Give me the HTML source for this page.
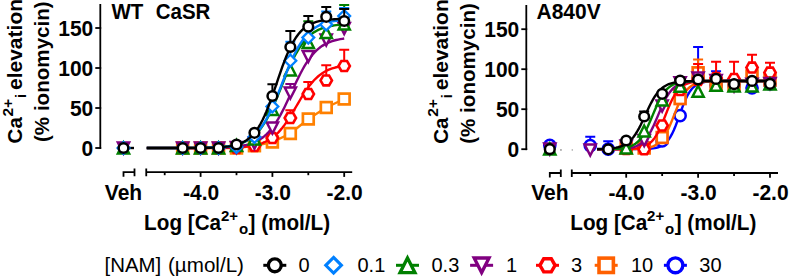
<!DOCTYPE html><html><head><meta charset="utf-8"><style>html,body{margin:0;padding:0;background:#fff;width:789px;height:277px;overflow:hidden;position:relative}</style></head><body><svg width="789" height="277" viewBox="0 0 789 277" style="position:absolute;left:0;top:0">
<rect width="789" height="277" fill="#fff"/>
<g transform="translate(0,0) rotate(-90)"><text x="-143.4" y="22.2" style="font-family:'Liberation Sans',sans-serif;font-weight:bold;font-size:20.5px">Ca</text><text x="-116.5" y="12.6" style="font-family:'Liberation Sans',sans-serif;font-weight:bold;font-size:15.5px">2+</text><text x="-98" y="26.2" style="font-family:'Liberation Sans',sans-serif;font-weight:bold;font-size:15px">i</text><text x="-90" y="22.2" style="font-family:'Liberation Sans',sans-serif;font-weight:bold;font-size:21px">elevation</text><text x="-142" y="49.3" style="font-family:'Liberation Sans',sans-serif;font-weight:bold;font-size:20.6px">(% ionomycin)</text></g>
<g transform="translate(425.5,0.3) rotate(-90)"><text x="-143.4" y="22.2" style="font-family:'Liberation Sans',sans-serif;font-weight:bold;font-size:20.5px">Ca</text><text x="-116.5" y="12.6" style="font-family:'Liberation Sans',sans-serif;font-weight:bold;font-size:15.5px">2+</text><text x="-98" y="26.2" style="font-family:'Liberation Sans',sans-serif;font-weight:bold;font-size:15px">i</text><text x="-90" y="22.2" style="font-family:'Liberation Sans',sans-serif;font-weight:bold;font-size:21px">elevation</text><text x="-143.5" y="49.3" style="font-family:'Liberation Sans',sans-serif;font-weight:bold;font-size:20.6px">(% ionomycin)</text></g>
<text transform="translate(93.30,155.80) scale(1,1.08)" text-anchor="end" style="font-family:'Liberation Sans',sans-serif;font-weight:bold;font-size:21px">0</text>
<text transform="translate(93.30,115.80) scale(1,1.08)" text-anchor="end" style="font-family:'Liberation Sans',sans-serif;font-weight:bold;font-size:21px">50</text>
<text transform="translate(93.30,75.80) scale(1,1.08)" text-anchor="end" style="font-family:'Liberation Sans',sans-serif;font-weight:bold;font-size:21px">100</text>
<text transform="translate(93.30,35.80) scale(1,1.08)" text-anchor="end" style="font-family:'Liberation Sans',sans-serif;font-weight:bold;font-size:21px">150</text>
<text transform="translate(123.50,199.60) scale(1,1.08)" text-anchor="middle" style="font-family:'Liberation Sans',sans-serif;font-weight:bold;font-size:21px">Veh</text>
<text transform="translate(201.10,199.60) scale(1,1.08)" text-anchor="middle" style="font-family:'Liberation Sans',sans-serif;font-weight:bold;font-size:21px">-4.0</text>
<text transform="translate(272.90,199.60) scale(1,1.08)" text-anchor="middle" style="font-family:'Liberation Sans',sans-serif;font-weight:bold;font-size:21px">-3.0</text>
<text transform="translate(344.70,199.60) scale(1,1.08)" text-anchor="middle" style="font-family:'Liberation Sans',sans-serif;font-weight:bold;font-size:21px">-2.0</text>
<text transform="translate(144.10,230.30) scale(1,1.04)" style="font-family:'Liberation Sans',sans-serif;font-weight:bold;font-size:20.7px">Log [Ca</text>
<text x="220.9" y="221.4" style="font-family:'Liberation Sans',sans-serif;font-weight:bold;font-size:15px">2+</text>
<text x="238.9" y="234" style="font-family:'Liberation Sans',sans-serif;font-weight:bold;font-size:15px">o</text>
<text transform="translate(248.50,230.30) scale(1,1.04)" style="font-family:'Liberation Sans',sans-serif;font-weight:bold;font-size:20.7px">] (mol/L)</text>
<path d="M100.30 4.0V148.90" stroke="#000" stroke-width="1.8" fill="none"/>
<path d="M95.30 148.00H101.20" stroke="#000" stroke-width="1.8"/>
<path d="M95.30 108.00H101.20" stroke="#000" stroke-width="1.8"/>
<path d="M95.30 68.00H101.20" stroke="#000" stroke-width="1.8"/>
<path d="M95.30 28.00H101.20" stroke="#000" stroke-width="1.8"/>
<path d="M123.50 176.70V172.20H134.50M134.50 168.60V176.20" stroke="#000" stroke-width="1.8" fill="none"/>
<path d="M146.25 168.60V176.20M146.25 172.20H352.20" stroke="#000" stroke-width="1.8" fill="none"/>
<path d="M164.70 172.20V175.20" stroke="#000" stroke-width="1.8"/>
<path d="M236.50 172.20V175.20" stroke="#000" stroke-width="1.8"/>
<path d="M308.30 172.20V175.20" stroke="#000" stroke-width="1.8"/>
<path d="M200.60 172.20V176.90" stroke="#000" stroke-width="1.8"/>
<path d="M272.40 172.20V176.90" stroke="#000" stroke-width="1.8"/>
<path d="M344.20 172.20V176.90" stroke="#000" stroke-width="1.8"/>
<text transform="translate(519.30,157.00) scale(1,1.08)" text-anchor="end" style="font-family:'Liberation Sans',sans-serif;font-weight:bold;font-size:21px">0</text>
<text transform="translate(519.30,117.00) scale(1,1.08)" text-anchor="end" style="font-family:'Liberation Sans',sans-serif;font-weight:bold;font-size:21px">50</text>
<text transform="translate(519.30,77.00) scale(1,1.08)" text-anchor="end" style="font-family:'Liberation Sans',sans-serif;font-weight:bold;font-size:21px">100</text>
<text transform="translate(519.30,37.00) scale(1,1.08)" text-anchor="end" style="font-family:'Liberation Sans',sans-serif;font-weight:bold;font-size:21px">150</text>
<text transform="translate(549.80,200.40) scale(1,1.08)" text-anchor="middle" style="font-family:'Liberation Sans',sans-serif;font-weight:bold;font-size:21px">Veh</text>
<text transform="translate(626.70,200.40) scale(1,1.08)" text-anchor="middle" style="font-family:'Liberation Sans',sans-serif;font-weight:bold;font-size:21px">-4.0</text>
<text transform="translate(698.60,200.40) scale(1,1.08)" text-anchor="middle" style="font-family:'Liberation Sans',sans-serif;font-weight:bold;font-size:21px">-3.0</text>
<text transform="translate(770.50,200.40) scale(1,1.08)" text-anchor="middle" style="font-family:'Liberation Sans',sans-serif;font-weight:bold;font-size:21px">-2.0</text>
<text transform="translate(570.30,230.30) scale(1,1.04)" style="font-family:'Liberation Sans',sans-serif;font-weight:bold;font-size:20.7px">Log [Ca</text>
<text x="647.1" y="221.4" style="font-family:'Liberation Sans',sans-serif;font-weight:bold;font-size:15px">2+</text>
<text x="665.1" y="234" style="font-family:'Liberation Sans',sans-serif;font-weight:bold;font-size:15px">o</text>
<text transform="translate(674.70,230.30) scale(1,1.04)" style="font-family:'Liberation Sans',sans-serif;font-weight:bold;font-size:20.7px">] (mol/L)</text>
<path d="M526.30 5.0V150.10" stroke="#000" stroke-width="1.8" fill="none"/>
<path d="M521.30 149.20H527.20" stroke="#000" stroke-width="1.8"/>
<path d="M521.30 109.20H527.20" stroke="#000" stroke-width="1.8"/>
<path d="M521.30 69.20H527.20" stroke="#000" stroke-width="1.8"/>
<path d="M521.30 29.20H527.20" stroke="#000" stroke-width="1.8"/>
<path d="M549.80 177.50V173.00H560.80M560.80 169.40V177.00" stroke="#000" stroke-width="1.8" fill="none"/>
<path d="M571.78 169.40V177.00M571.78 173.00H778.00" stroke="#000" stroke-width="1.8" fill="none"/>
<path d="M590.25 173.00V176.00" stroke="#000" stroke-width="1.8"/>
<path d="M662.15 173.00V176.00" stroke="#000" stroke-width="1.8"/>
<path d="M734.05 173.00V176.00" stroke="#000" stroke-width="1.8"/>
<path d="M626.20 173.00V177.70" stroke="#000" stroke-width="1.8"/>
<path d="M698.10 173.00V177.70" stroke="#000" stroke-width="1.8"/>
<path d="M770.00 173.00V177.70" stroke="#000" stroke-width="1.8"/>
<text transform="translate(111.50,19.40) scale(1,1.08)" style="font-family:'Liberation Sans',sans-serif;font-weight:bold;font-size:20.5px">WT</text><text transform="translate(155.70,19.40) scale(1,1.08)" style="font-family:'Liberation Sans',sans-serif;font-weight:bold;font-size:20.5px">CaSR</text>
<text transform="translate(536.50,19.10) scale(1,1.08)" style="font-family:'Liberation Sans',sans-serif;font-weight:bold;font-size:21px">A840V</text>
<path d="M123.50 148H134.00" stroke="#000" stroke-width="2.4"/>
<path d="M146.75 148.00L182.65 148.00L200.60 148.00L218.55 148.00L236.50 148.00L254.45 145.70L272.40 142.00L290.35 133.50L308.30 119.00L326.25 107.50L344.20 99.00" fill="none" stroke="#ff8000" stroke-width="2.4"/>
<rect x="177.25" y="142.60" width="10.80" height="10.80" fill="#fff" stroke="#ff8000" stroke-width="2.70"/>
<rect x="195.20" y="142.60" width="10.80" height="10.80" fill="#fff" stroke="#ff8000" stroke-width="2.70"/>
<rect x="213.15" y="142.60" width="10.80" height="10.80" fill="#fff" stroke="#ff8000" stroke-width="2.70"/>
<rect x="231.10" y="142.60" width="10.80" height="10.80" fill="#fff" stroke="#ff8000" stroke-width="2.70"/>
<rect x="249.05" y="140.30" width="10.80" height="10.80" fill="#fff" stroke="#ff8000" stroke-width="2.70"/>
<rect x="267.00" y="136.60" width="10.80" height="10.80" fill="#fff" stroke="#ff8000" stroke-width="2.70"/>
<rect x="284.95" y="128.10" width="10.80" height="10.80" fill="#fff" stroke="#ff8000" stroke-width="2.70"/>
<rect x="302.90" y="113.60" width="10.80" height="10.80" fill="#fff" stroke="#ff8000" stroke-width="2.70"/>
<rect x="320.85" y="102.10" width="10.80" height="10.80" fill="#fff" stroke="#ff8000" stroke-width="2.70"/>
<rect x="338.80" y="93.60" width="10.80" height="10.80" fill="#fff" stroke="#ff8000" stroke-width="2.70"/>
<path d="M146.75 148.00L148.74 148.00L150.74 148.00L152.73 148.00L154.73 148.00L156.72 148.00L158.72 148.00L160.71 148.00L162.71 148.00L164.70 148.00L166.69 148.00L168.69 148.00L170.68 148.00L172.68 148.00L174.67 148.00L176.67 148.00L178.66 147.99L180.66 147.99L182.65 147.99L184.64 147.99L186.64 147.99L188.63 147.99L190.63 147.98L192.62 147.98L194.62 147.98L196.61 147.98L198.61 147.97L200.60 147.97L202.59 147.96L204.59 147.95L206.58 147.94L208.58 147.93L210.57 147.92L212.57 147.91L214.56 147.89L216.56 147.87L218.55 147.85L220.54 147.83L222.54 147.79L224.53 147.76L226.53 147.72L228.52 147.67L230.52 147.61L232.51 147.54L234.51 147.46L236.50 147.36L238.49 147.25L240.49 147.12L242.48 146.97L244.48 146.79L246.47 146.58L248.47 146.34L250.46 146.05L252.46 145.72L254.45 145.33L256.44 144.88L258.44 144.35L260.43 143.74L262.43 143.04L264.42 142.22L266.42 141.29L268.41 140.22L270.41 138.99L272.40 137.60L274.39 136.03L276.39 134.27L278.38 132.31L280.38 130.13L282.37 127.74L284.37 125.15L286.36 122.35L288.36 119.38L290.35 116.24L292.34 112.99L294.34 109.64L296.33 106.24L298.33 102.85L300.32 99.49L302.32 96.22L304.31 93.07L306.31 90.07L308.30 87.26L310.29 84.64L312.29 82.22L314.28 80.02L316.28 78.03L318.27 76.25L320.27 74.65L322.26 73.24L324.26 72.00L326.25 70.91L328.24 69.96L330.24 69.13L332.23 68.42L334.23 67.80L336.22 67.26L338.22 66.80L340.21 66.40L342.21 66.06L344.20 65.77" fill="none" stroke="#ff0000" stroke-width="2.4"/>
<path d="M290.35 118.00V110.30M285.35 110.30H295.35" fill="none" stroke="#ff0000" stroke-width="2"/>
<path d="M308.30 94.00V82.00M303.30 82.00H313.30" fill="none" stroke="#ff0000" stroke-width="2"/>
<path d="M326.25 80.40V65.20M321.25 65.20H331.25" fill="none" stroke="#ff0000" stroke-width="2"/>
<path d="M344.20 66.00V49.70M339.20 49.70H349.20" fill="none" stroke="#ff0000" stroke-width="2"/>
<path d="M176.95 148.00L179.80 143.06L185.50 143.06L188.35 148.00L185.50 152.94L179.80 152.94Z" fill="#fff" stroke="#ff0000" stroke-width="2.60"/>
<path d="M194.90 148.00L197.75 143.06L203.45 143.06L206.30 148.00L203.45 152.94L197.75 152.94Z" fill="#fff" stroke="#ff0000" stroke-width="2.60"/>
<path d="M212.85 148.00L215.70 143.06L221.40 143.06L224.25 148.00L221.40 152.94L215.70 152.94Z" fill="#fff" stroke="#ff0000" stroke-width="2.60"/>
<path d="M230.80 148.00L233.65 143.06L239.35 143.06L242.20 148.00L239.35 152.94L233.65 152.94Z" fill="#fff" stroke="#ff0000" stroke-width="2.60"/>
<path d="M248.75 146.00L251.60 141.06L257.30 141.06L260.15 146.00L257.30 150.94L251.60 150.94Z" fill="#fff" stroke="#ff0000" stroke-width="2.60"/>
<path d="M266.70 138.00L269.55 133.06L275.25 133.06L278.10 138.00L275.25 142.94L269.55 142.94Z" fill="#fff" stroke="#ff0000" stroke-width="2.60"/>
<path d="M284.65 118.00L287.50 113.06L293.20 113.06L296.05 118.00L293.20 122.94L287.50 122.94Z" fill="#fff" stroke="#ff0000" stroke-width="2.60"/>
<path d="M302.60 94.00L305.45 89.06L311.15 89.06L314.00 94.00L311.15 98.94L305.45 98.94Z" fill="#fff" stroke="#ff0000" stroke-width="2.60"/>
<path d="M320.55 80.40L323.40 75.46L329.10 75.46L331.95 80.40L329.10 85.34L323.40 85.34Z" fill="#fff" stroke="#ff0000" stroke-width="2.60"/>
<path d="M338.50 66.00L341.35 61.06L347.05 61.06L349.90 66.00L347.05 70.94L341.35 70.94Z" fill="#fff" stroke="#ff0000" stroke-width="2.60"/>
<path d="M146.75 148.00L148.74 148.00L150.74 148.00L152.73 148.00L154.73 148.00L156.72 148.00L158.72 148.00L160.71 148.00L162.71 148.00L164.70 147.99L166.69 147.99L168.69 147.99L170.68 147.99L172.68 147.99L174.67 147.99L176.67 147.99L178.66 147.98L180.66 147.98L182.65 147.98L184.64 147.97L186.64 147.97L188.63 147.97L190.63 147.96L192.62 147.95L194.62 147.94L196.61 147.94L198.61 147.92L200.60 147.91L202.59 147.90L204.59 147.88L206.58 147.86L208.58 147.83L210.57 147.81L212.57 147.77L214.56 147.74L216.56 147.69L218.55 147.64L220.54 147.58L222.54 147.51L224.53 147.42L226.53 147.33L228.52 147.21L230.52 147.08L232.51 146.92L234.51 146.74L236.50 146.53L238.49 146.29L240.49 146.00L242.48 145.67L244.48 145.29L246.47 144.84L248.47 144.32L250.46 143.72L252.46 143.03L254.45 142.23L256.44 141.31L258.44 140.25L260.43 139.05L262.43 137.67L264.42 136.10L266.42 134.33L268.41 132.34L270.41 130.11L272.40 127.63L274.39 124.89L276.39 121.89L278.38 118.63L280.38 115.12L282.37 111.38L284.37 107.44L286.36 103.32L288.36 99.08L290.35 94.75L292.34 90.40L294.34 86.07L296.33 81.81L298.33 77.69L300.32 73.72L302.32 69.97L304.31 66.44L306.31 63.16L308.30 60.14L310.29 57.38L312.29 54.88L314.28 52.63L316.28 50.62L318.27 48.83L320.27 47.25L322.26 45.86L324.26 44.64L326.25 43.57L328.24 42.64L330.24 41.83L332.23 41.13L334.23 40.52L336.22 40.00L338.22 39.55L340.21 39.16L342.21 38.82L344.20 38.53" fill="none" stroke="#800080" stroke-width="2.4"/>
<path d="M290.35 93.00V84.00M285.35 84.00H295.35" fill="none" stroke="#800080" stroke-width="2"/>
<path d="M123.50 153.50L129.10 142.50L117.90 142.50Z" fill="#fff" stroke="#800080" stroke-width="2.50"/>
<path d="M182.65 153.50L188.25 142.50L177.05 142.50Z" fill="#fff" stroke="#800080" stroke-width="2.50"/>
<path d="M200.60 153.50L206.20 142.50L195.00 142.50Z" fill="#fff" stroke="#800080" stroke-width="2.50"/>
<path d="M218.55 153.50L224.15 142.50L212.95 142.50Z" fill="#fff" stroke="#800080" stroke-width="2.50"/>
<path d="M236.50 153.00L242.10 142.00L230.90 142.00Z" fill="#fff" stroke="#800080" stroke-width="2.50"/>
<path d="M254.45 148.80L260.05 137.80L248.85 137.80Z" fill="#fff" stroke="#800080" stroke-width="2.50"/>
<path d="M272.40 133.50L278.00 122.50L266.80 122.50Z" fill="#fff" stroke="#800080" stroke-width="2.50"/>
<path d="M290.35 98.50L295.95 87.50L284.75 87.50Z" fill="#fff" stroke="#800080" stroke-width="2.50"/>
<path d="M308.30 62.00L313.90 51.00L302.70 51.00Z" fill="#fff" stroke="#800080" stroke-width="2.50"/>
<path d="M326.25 45.50L331.85 34.50L320.65 34.50Z" fill="#fff" stroke="#800080" stroke-width="2.50"/>
<path d="M344.20 34.00L349.80 23.00L338.60 23.00Z" fill="#fff" stroke="#800080" stroke-width="2.50"/>
<path d="M146.75 148.00L148.74 148.00L150.74 148.00L152.73 148.00L154.73 148.00L156.72 147.99L158.72 147.99L160.71 147.99L162.71 147.99L164.70 147.99L166.69 147.99L168.69 147.99L170.68 147.98L172.68 147.98L174.67 147.98L176.67 147.97L178.66 147.97L180.66 147.96L182.65 147.96L184.64 147.95L186.64 147.94L188.63 147.93L190.63 147.92L192.62 147.90L194.62 147.88L196.61 147.86L198.61 147.84L200.60 147.81L202.59 147.78L204.59 147.74L206.58 147.70L208.58 147.65L210.57 147.59L212.57 147.52L214.56 147.43L216.56 147.33L218.55 147.22L220.54 147.09L222.54 146.93L224.53 146.74L226.53 146.53L228.52 146.28L230.52 145.98L232.51 145.64L234.51 145.24L236.50 144.78L238.49 144.23L240.49 143.60L242.48 142.87L244.48 142.03L246.47 141.05L248.47 139.92L250.46 138.63L252.46 137.14L254.45 135.45L256.44 133.53L258.44 131.35L260.43 128.91L262.43 126.18L264.42 123.15L266.42 119.82L268.41 116.18L270.41 112.25L272.40 108.04L274.39 103.59L276.39 98.93L278.38 94.10L280.38 89.18L282.37 84.21L284.37 79.26L286.36 74.39L288.36 69.67L290.35 65.13L292.34 60.83L294.34 56.80L296.33 53.05L298.33 49.61L300.32 46.47L302.32 43.64L304.31 41.09L306.31 38.83L308.30 36.81L310.29 35.04L312.29 33.48L314.28 32.12L316.28 30.94L318.27 29.91L320.27 29.02L322.26 28.25L324.26 27.58L326.25 27.01L328.24 26.52L330.24 26.10L332.23 25.73L334.23 25.42L336.22 25.16L338.22 24.93L340.21 24.73L342.21 24.57L344.20 24.43" fill="none" stroke="#008000" stroke-width="2.4"/>
<path d="M308.30 42.50V21.30M303.30 21.30H313.30" fill="none" stroke="#008000" stroke-width="2"/>
<path d="M344.20 24.00V4.90M339.20 4.90H349.20" fill="none" stroke="#008000" stroke-width="2"/>
<path d="M123.50 142.50L129.10 153.50L117.90 153.50Z" fill="#fff" stroke="#008000" stroke-width="2.50"/>
<path d="M182.65 142.50L188.25 153.50L177.05 153.50Z" fill="#fff" stroke="#008000" stroke-width="2.50"/>
<path d="M200.60 142.50L206.20 153.50L195.00 153.50Z" fill="#fff" stroke="#008000" stroke-width="2.50"/>
<path d="M218.55 142.50L224.15 153.50L212.95 153.50Z" fill="#fff" stroke="#008000" stroke-width="2.50"/>
<path d="M236.50 140.10L242.10 151.10L230.90 151.10Z" fill="#fff" stroke="#008000" stroke-width="2.50"/>
<path d="M254.45 133.50L260.05 144.50L248.85 144.50Z" fill="#fff" stroke="#008000" stroke-width="2.50"/>
<path d="M272.40 104.00L278.00 115.00L266.80 115.00Z" fill="#fff" stroke="#008000" stroke-width="2.50"/>
<path d="M290.35 64.50L295.95 75.50L284.75 75.50Z" fill="#fff" stroke="#008000" stroke-width="2.50"/>
<path d="M308.30 37.00L313.90 48.00L302.70 48.00Z" fill="#fff" stroke="#008000" stroke-width="2.50"/>
<path d="M326.25 27.00L331.85 38.00L320.65 38.00Z" fill="#fff" stroke="#008000" stroke-width="2.50"/>
<path d="M344.20 18.50L349.80 29.50L338.60 29.50Z" fill="#fff" stroke="#008000" stroke-width="2.50"/>
<path d="M146.75 148.00L148.74 148.00L150.74 148.00L152.73 148.00L154.73 147.99L156.72 147.99L158.72 147.99L160.71 147.99L162.71 147.99L164.70 147.99L166.69 147.99L168.69 147.98L170.68 147.98L172.68 147.98L174.67 147.97L176.67 147.97L178.66 147.96L180.66 147.96L182.65 147.95L184.64 147.94L186.64 147.93L188.63 147.92L190.63 147.91L192.62 147.89L194.62 147.87L196.61 147.85L198.61 147.83L200.60 147.80L202.59 147.76L204.59 147.72L206.58 147.67L208.58 147.62L210.57 147.55L212.57 147.48L214.56 147.39L216.56 147.28L218.55 147.16L220.54 147.02L222.54 146.85L224.53 146.66L226.53 146.43L228.52 146.17L230.52 145.86L232.51 145.50L234.51 145.09L236.50 144.60L238.49 144.04L240.49 143.38L242.48 142.63L244.48 141.75L246.47 140.74L248.47 139.58L250.46 138.25L252.46 136.73L254.45 135.00L256.44 133.03L258.44 130.81L260.43 128.32L262.43 125.54L264.42 122.46L266.42 119.07L268.41 115.37L270.41 111.38L272.40 107.10L274.39 102.56L276.39 97.81L278.38 92.89L280.38 87.86L282.37 82.77L284.37 77.70L286.36 72.69L288.36 67.81L290.35 63.12L292.34 58.65L294.34 54.45L296.33 50.54L298.33 46.93L300.32 43.62L302.32 40.63L304.31 37.93L306.31 35.51L308.30 33.37L310.29 31.47L312.29 29.80L314.28 28.33L316.28 27.05L318.27 25.93L320.27 24.96L322.26 24.12L324.26 23.40L326.25 22.77L328.24 22.23L330.24 21.77L332.23 21.37L334.23 21.02L336.22 20.73L338.22 20.47L340.21 20.26L342.21 20.07L344.20 19.91" fill="none" stroke="#0080ff" stroke-width="2.4"/>
<path d="M290.35 60.70V41.80M285.35 41.80H295.35" fill="none" stroke="#0080ff" stroke-width="2"/>
<path d="M326.25 24.50V11.40M321.25 11.40H331.25" fill="none" stroke="#0080ff" stroke-width="2"/>
<path d="M344.20 16.00V8.00M339.20 8.00H349.20" fill="none" stroke="#0080ff" stroke-width="2"/>
<path d="M123.50 142.10L129.40 148.00L123.50 153.90L117.60 148.00Z" fill="#fff" stroke="#0080ff" stroke-width="2.30"/>
<path d="M182.65 142.10L188.55 148.00L182.65 153.90L176.75 148.00Z" fill="#fff" stroke="#0080ff" stroke-width="2.30"/>
<path d="M200.60 142.10L206.50 148.00L200.60 153.90L194.70 148.00Z" fill="#fff" stroke="#0080ff" stroke-width="2.30"/>
<path d="M218.55 142.10L224.45 148.00L218.55 153.90L212.65 148.00Z" fill="#fff" stroke="#0080ff" stroke-width="2.30"/>
<path d="M236.50 141.10L242.40 147.00L236.50 152.90L230.60 147.00Z" fill="#fff" stroke="#0080ff" stroke-width="2.30"/>
<path d="M254.45 131.10L260.35 137.00L254.45 142.90L248.55 137.00Z" fill="#fff" stroke="#0080ff" stroke-width="2.30"/>
<path d="M272.40 100.60L278.30 106.50L272.40 112.40L266.50 106.50Z" fill="#fff" stroke="#0080ff" stroke-width="2.30"/>
<path d="M290.35 54.80L296.25 60.70L290.35 66.60L284.45 60.70Z" fill="#fff" stroke="#0080ff" stroke-width="2.30"/>
<path d="M308.30 31.70L314.20 37.60L308.30 43.50L302.40 37.60Z" fill="#fff" stroke="#0080ff" stroke-width="2.30"/>
<path d="M326.25 18.60L332.15 24.50L326.25 30.40L320.35 24.50Z" fill="#fff" stroke="#0080ff" stroke-width="2.30"/>
<path d="M344.20 10.10L350.10 16.00L344.20 21.90L338.30 16.00Z" fill="#fff" stroke="#0080ff" stroke-width="2.30"/>
<path d="M146.75 148.00L148.74 148.00L150.74 148.00L152.73 148.00L154.73 148.00L156.72 148.00L158.72 148.00L160.71 148.00L162.71 148.00L164.70 148.00L166.69 147.99L168.69 147.99L170.68 147.99L172.68 147.99L174.67 147.99L176.67 147.99L178.66 147.98L180.66 147.98L182.65 147.98L184.64 147.97L186.64 147.97L188.63 147.96L190.63 147.95L192.62 147.94L194.62 147.93L196.61 147.91L198.61 147.90L200.60 147.88L202.59 147.85L204.59 147.82L206.58 147.79L208.58 147.74L210.57 147.69L212.57 147.63L214.56 147.56L216.56 147.47L218.55 147.36L220.54 147.23L222.54 147.08L224.53 146.90L226.53 146.68L228.52 146.42L230.52 146.11L232.51 145.74L234.51 145.30L236.50 144.78L238.49 144.15L240.49 143.41L242.48 142.53L244.48 141.49L246.47 140.27L248.47 138.83L250.46 137.15L252.46 135.20L254.45 132.94L256.44 130.34L258.44 127.37L260.43 124.01L262.43 120.24L264.42 116.06L266.42 111.48L268.41 106.52L270.41 101.23L272.40 95.66L274.39 89.90L276.39 84.02L278.38 78.14L280.38 72.34L282.37 66.71L284.37 61.35L286.36 56.30L288.36 51.62L290.35 47.34L292.34 43.47L294.34 40.01L296.33 36.95L298.33 34.26L300.32 31.92L302.32 29.89L304.31 28.15L306.31 26.65L308.30 25.38L310.29 24.30L312.29 23.38L314.28 22.61L316.28 21.95L318.27 21.40L320.27 20.94L322.26 20.56L324.26 20.23L326.25 19.96L328.24 19.73L330.24 19.54L332.23 19.38L334.23 19.25L336.22 19.14L338.22 19.05L340.21 18.97L342.21 18.91L344.20 18.85" fill="none" stroke="#000000" stroke-width="2.4"/>
<path d="M272.40 96.00V84.30M267.40 84.30H277.40" fill="none" stroke="#000000" stroke-width="2"/>
<path d="M290.35 47.00V31.00M285.35 31.00H295.35" fill="none" stroke="#000000" stroke-width="2"/>
<path d="M308.30 26.70V16.00M303.30 16.00H313.30" fill="none" stroke="#000000" stroke-width="2"/>
<path d="M326.25 16.80V7.10M321.25 7.10H331.25" fill="none" stroke="#000000" stroke-width="2"/>
<path d="M344.20 21.00V9.00M339.20 9.00H349.20" fill="none" stroke="#000000" stroke-width="2"/>
<circle cx="123.50" cy="148.00" r="4.85" fill="#fff" stroke="#000000" stroke-width="2.50"/>
<circle cx="182.65" cy="148.00" r="4.85" fill="#fff" stroke="#000000" stroke-width="2.50"/>
<circle cx="200.60" cy="148.00" r="4.85" fill="#fff" stroke="#000000" stroke-width="2.50"/>
<circle cx="218.55" cy="148.00" r="4.85" fill="#fff" stroke="#000000" stroke-width="2.50"/>
<circle cx="236.50" cy="144.50" r="4.85" fill="#fff" stroke="#000000" stroke-width="2.50"/>
<circle cx="254.45" cy="132.80" r="4.85" fill="#fff" stroke="#000000" stroke-width="2.50"/>
<circle cx="272.40" cy="96.00" r="4.85" fill="#fff" stroke="#000000" stroke-width="2.50"/>
<circle cx="290.35" cy="47.00" r="4.85" fill="#fff" stroke="#000000" stroke-width="2.50"/>
<circle cx="308.30" cy="26.70" r="4.85" fill="#fff" stroke="#000000" stroke-width="2.50"/>
<circle cx="326.25" cy="16.80" r="4.85" fill="#fff" stroke="#000000" stroke-width="2.50"/>
<circle cx="344.20" cy="21.00" r="4.85" fill="#fff" stroke="#000000" stroke-width="2.50"/>
<path d="M597.01 149.20L598.76 149.20L600.50 149.20L602.25 149.20L604.00 149.20L605.75 149.20L607.49 149.20L609.24 149.20L610.99 149.20L612.74 149.20L614.48 149.20L616.23 149.20L617.98 149.20L619.72 149.20L621.47 149.20L623.22 149.19L624.97 149.19L626.71 149.19L628.46 149.18L630.21 149.18L631.96 149.17L633.70 149.16L635.45 149.15L637.20 149.14L638.95 149.12L640.69 149.09L642.44 149.05L644.19 149.00L645.94 148.93L647.68 148.84L649.43 148.73L651.18 148.57L652.93 148.36L654.67 148.09L656.42 147.72L658.17 147.24L659.91 146.61L661.66 145.80L663.41 144.73L665.16 143.37L666.90 141.64L668.65 139.48L670.40 136.83L672.15 133.64L673.89 129.92L675.64 125.70L677.39 121.09L679.14 116.24L680.88 111.35L682.63 106.60L684.38 102.18L686.13 98.22L687.87 94.77L689.62 91.87L691.37 89.48L693.11 87.56L694.86 86.03L696.61 84.83L698.36 83.91L700.10 83.19L701.85 82.65L703.60 82.23L705.35 81.92L707.09 81.68L708.84 81.50L710.59 81.37L712.34 81.27L714.08 81.19L715.83 81.13L717.58 81.09L719.33 81.06L721.07 81.03L722.82 81.01L724.57 81.00L726.32 80.99L728.06 80.98L729.81 80.98L731.56 80.97L733.30 80.97L735.05 80.97L736.80 80.97L738.55 80.96L740.29 80.96L742.04 80.96L743.79 80.96L745.54 80.96L747.28 80.96L749.03 80.96L750.78 80.96L752.53 80.96L754.27 80.96L756.02 80.96L757.77 80.96L759.52 80.96L761.26 80.96L763.01 80.96L764.76 80.96L766.51 80.96L768.25 80.96L770.00 80.96" fill="none" stroke="#0000ff" stroke-width="2.4"/>
<path d="M590.25 145.60V136.70M585.25 136.70H595.25" fill="none" stroke="#0000ff" stroke-width="2"/>
<path d="M608.23 149.20V141.20M603.23 141.20H613.23" fill="none" stroke="#0000ff" stroke-width="2"/>
<path d="M698.10 78.00V46.90M693.10 46.90H703.10" fill="none" stroke="#0000ff" stroke-width="2"/>
<path d="M716.08 85.00V71.20M711.08 71.20H721.08" fill="none" stroke="#0000ff" stroke-width="2"/>
<circle cx="549.80" cy="145.30" r="5.60" fill="#fff" stroke="#0000ff" stroke-width="2.50"/>
<circle cx="590.25" cy="145.60" r="5.60" fill="#fff" stroke="#0000ff" stroke-width="2.50"/>
<circle cx="608.23" cy="149.20" r="5.60" fill="#fff" stroke="#0000ff" stroke-width="2.50"/>
<circle cx="626.20" cy="148.00" r="5.60" fill="#fff" stroke="#0000ff" stroke-width="2.50"/>
<circle cx="644.18" cy="146.00" r="5.60" fill="#fff" stroke="#0000ff" stroke-width="2.50"/>
<circle cx="662.15" cy="141.00" r="5.60" fill="#fff" stroke="#0000ff" stroke-width="2.50"/>
<circle cx="680.12" cy="115.70" r="5.60" fill="#fff" stroke="#0000ff" stroke-width="2.50"/>
<circle cx="698.10" cy="78.00" r="5.60" fill="#fff" stroke="#0000ff" stroke-width="2.50"/>
<circle cx="716.08" cy="85.00" r="5.60" fill="#fff" stroke="#0000ff" stroke-width="2.50"/>
<circle cx="734.05" cy="85.00" r="5.60" fill="#fff" stroke="#0000ff" stroke-width="2.50"/>
<circle cx="752.03" cy="88.00" r="5.60" fill="#fff" stroke="#0000ff" stroke-width="2.50"/>
<circle cx="770.00" cy="84.00" r="5.60" fill="#fff" stroke="#0000ff" stroke-width="2.50"/>
<path d="M597.01 149.20L598.76 149.20L600.50 149.20L602.25 149.20L604.00 149.20L605.75 149.20L607.49 149.20L609.24 149.20L610.99 149.19L612.74 149.19L614.48 149.19L616.23 149.19L617.98 149.18L619.72 149.18L621.47 149.17L623.22 149.16L624.97 149.15L626.71 149.14L628.46 149.12L630.21 149.10L631.96 149.07L633.70 149.03L635.45 148.98L637.20 148.91L638.95 148.83L640.69 148.72L642.44 148.58L644.19 148.40L645.94 148.17L647.68 147.87L649.43 147.48L651.18 146.99L652.93 146.37L654.67 145.58L656.42 144.59L658.17 143.34L659.91 141.80L661.66 139.91L663.41 137.64L665.16 134.94L666.90 131.81L668.65 128.25L670.40 124.33L672.15 120.12L673.89 115.75L675.64 111.35L677.39 107.08L679.14 103.05L680.88 99.38L682.63 96.12L684.38 93.29L686.13 90.89L687.87 88.89L689.62 87.25L691.37 85.92L693.11 84.86L694.86 84.01L696.61 83.34L698.36 82.81L700.10 82.40L701.85 82.08L703.60 81.83L705.35 81.63L707.09 81.48L708.84 81.36L710.59 81.27L712.34 81.20L714.08 81.15L715.83 81.10L717.58 81.07L719.33 81.05L721.07 81.03L722.82 81.01L724.57 81.00L726.32 80.99L728.06 80.98L729.81 80.98L731.56 80.97L733.30 80.97L735.05 80.97L736.80 80.97L738.55 80.96L740.29 80.96L742.04 80.96L743.79 80.96L745.54 80.96L747.28 80.96L749.03 80.96L750.78 80.96L752.53 80.96L754.27 80.96L756.02 80.96L757.77 80.96L759.52 80.96L761.26 80.96L763.01 80.96L764.76 80.96L766.51 80.96L768.25 80.96L770.00 80.96" fill="none" stroke="#ff6400" stroke-width="2.4"/>
<path d="M698.10 72.80V59.50M693.10 59.50H703.10" fill="none" stroke="#ff6400" stroke-width="2"/>
<rect x="620.80" y="142.60" width="10.80" height="10.80" fill="#fff" stroke="#ff6400" stroke-width="2.70"/>
<rect x="638.78" y="142.60" width="10.80" height="10.80" fill="#fff" stroke="#ff6400" stroke-width="2.70"/>
<rect x="656.75" y="132.10" width="10.80" height="10.80" fill="#fff" stroke="#ff6400" stroke-width="2.70"/>
<rect x="674.73" y="93.20" width="10.80" height="10.80" fill="#fff" stroke="#ff6400" stroke-width="2.70"/>
<rect x="692.70" y="67.40" width="10.80" height="10.80" fill="#fff" stroke="#ff6400" stroke-width="2.70"/>
<rect x="710.68" y="79.60" width="10.80" height="10.80" fill="#fff" stroke="#ff6400" stroke-width="2.70"/>
<rect x="728.65" y="79.60" width="10.80" height="10.80" fill="#fff" stroke="#ff6400" stroke-width="2.70"/>
<rect x="746.63" y="70.60" width="10.80" height="10.80" fill="#fff" stroke="#ff6400" stroke-width="2.70"/>
<rect x="764.60" y="74.60" width="10.80" height="10.80" fill="#fff" stroke="#ff6400" stroke-width="2.70"/>
<path d="M597.01 149.20L598.76 149.20L600.50 149.20L602.25 149.19L604.00 149.19L605.75 149.19L607.49 149.19L609.24 149.18L610.99 149.18L612.74 149.17L614.48 149.17L616.23 149.16L617.98 149.14L619.72 149.12L621.47 149.10L623.22 149.07L624.97 149.04L626.71 148.99L628.46 148.92L630.21 148.84L631.96 148.74L633.70 148.60L635.45 148.43L637.20 148.20L638.95 147.91L640.69 147.54L642.44 147.06L644.19 146.45L645.94 145.68L647.68 144.71L649.43 143.49L651.18 141.97L652.93 140.11L654.67 137.87L656.42 135.20L658.17 132.08L659.91 128.54L661.66 124.62L663.41 120.41L665.16 116.02L666.90 111.61L668.65 107.30L670.40 103.24L672.15 99.54L673.89 96.24L675.64 93.38L677.39 90.95L679.14 88.94L680.88 87.28L682.63 85.94L684.38 84.87L686.13 84.01L687.87 83.34L689.62 82.81L691.37 82.40L693.11 82.07L694.86 81.82L696.61 81.63L698.36 81.47L700.10 81.36L701.85 81.27L703.60 81.20L705.35 81.14L707.09 81.10L708.84 81.07L710.59 81.04L712.34 81.02L714.08 81.01L715.83 81.00L717.58 80.99L719.33 80.98L721.07 80.98L722.82 80.97L724.57 80.97L726.32 80.97L728.06 80.97L729.81 80.96L731.56 80.96L733.30 80.96L735.05 80.96L736.80 80.96L738.55 80.96L740.29 80.96L742.04 80.96L743.79 80.96L745.54 80.96L747.28 80.96L749.03 80.96L750.78 80.96L752.53 80.96L754.27 80.96L756.02 80.96L757.77 80.96L759.52 80.96L761.26 80.96L763.01 80.96L764.76 80.96L766.51 80.96L768.25 80.96L770.00 80.96" fill="none" stroke="#ff0000" stroke-width="2.4"/>
<path d="M698.10 80.00V64.00M693.10 64.00H703.10" fill="none" stroke="#ff0000" stroke-width="2"/>
<path d="M716.08 78.00V61.80M711.08 61.80H721.08" fill="none" stroke="#ff0000" stroke-width="2"/>
<path d="M734.05 79.00V61.80M729.05 61.80H739.05" fill="none" stroke="#ff0000" stroke-width="2"/>
<path d="M752.03 67.60V54.70M747.03 54.70H757.03" fill="none" stroke="#ff0000" stroke-width="2"/>
<path d="M770.00 72.60V62.80M765.00 62.80H775.00" fill="none" stroke="#ff0000" stroke-width="2"/>
<path d="M620.50 149.00L623.35 144.06L629.05 144.06L631.90 149.00L629.05 153.94L623.35 153.94Z" fill="#fff" stroke="#ff0000" stroke-width="2.60"/>
<path d="M638.48 149.30L641.33 144.36L647.03 144.36L649.88 149.30L647.03 154.24L641.33 154.24Z" fill="#fff" stroke="#ff0000" stroke-width="2.60"/>
<path d="M656.45 125.50L659.30 120.56L665.00 120.56L667.85 125.50L665.00 130.44L659.30 130.44Z" fill="#fff" stroke="#ff0000" stroke-width="2.60"/>
<path d="M674.42 90.00L677.27 85.06L682.98 85.06L685.83 90.00L682.98 94.94L677.27 94.94Z" fill="#fff" stroke="#ff0000" stroke-width="2.60"/>
<path d="M692.40 80.00L695.25 75.06L700.95 75.06L703.80 80.00L700.95 84.94L695.25 84.94Z" fill="#fff" stroke="#ff0000" stroke-width="2.60"/>
<path d="M710.38 78.00L713.23 73.06L718.93 73.06L721.78 78.00L718.93 82.94L713.23 82.94Z" fill="#fff" stroke="#ff0000" stroke-width="2.60"/>
<path d="M728.35 79.00L731.20 74.06L736.90 74.06L739.75 79.00L736.90 83.94L731.20 83.94Z" fill="#fff" stroke="#ff0000" stroke-width="2.60"/>
<path d="M746.33 67.60L749.18 62.66L754.88 62.66L757.73 67.60L754.88 72.54L749.18 72.54Z" fill="#fff" stroke="#ff0000" stroke-width="2.60"/>
<path d="M764.30 72.60L767.15 67.66L772.85 67.66L775.70 72.60L772.85 77.54L767.15 77.54Z" fill="#fff" stroke="#ff0000" stroke-width="2.60"/>
<path d="M597.01 149.19L598.76 149.18L600.50 149.18L602.25 149.17L604.00 149.17L605.75 149.16L607.49 149.14L609.24 149.13L610.99 149.11L612.74 149.08L614.48 149.05L616.23 149.01L617.98 148.96L619.72 148.89L621.47 148.80L623.22 148.70L624.97 148.56L626.71 148.38L628.46 148.16L630.21 147.87L631.96 147.51L633.70 147.06L635.45 146.49L637.20 145.78L638.95 144.89L640.69 143.79L642.44 142.44L644.19 140.79L645.94 138.81L647.68 136.47L649.43 133.74L651.18 130.62L652.93 127.13L654.67 123.33L656.42 119.30L658.17 115.15L659.91 110.99L661.66 106.96L663.41 103.15L665.16 99.65L666.90 96.52L668.65 93.77L670.40 91.42L672.15 89.43L673.89 87.77L675.64 86.41L677.39 85.30L679.14 84.41L680.88 83.69L682.63 83.12L684.38 82.66L686.13 82.30L687.87 82.01L689.62 81.79L691.37 81.61L693.11 81.47L694.86 81.36L696.61 81.27L698.36 81.21L700.10 81.15L701.85 81.11L703.60 81.08L705.35 81.05L707.09 81.03L708.84 81.02L710.59 81.00L712.34 80.99L714.08 80.99L715.83 80.98L717.58 80.98L719.33 80.97L721.07 80.97L722.82 80.97L724.57 80.97L726.32 80.96L728.06 80.96L729.81 80.96L731.56 80.96L733.30 80.96L735.05 80.96L736.80 80.96L738.55 80.96L740.29 80.96L742.04 80.96L743.79 80.96L745.54 80.96L747.28 80.96L749.03 80.96L750.78 80.96L752.53 80.96L754.27 80.96L756.02 80.96L757.77 80.96L759.52 80.96L761.26 80.96L763.01 80.96L764.76 80.96L766.51 80.96L768.25 80.96L770.00 80.96" fill="none" stroke="#800080" stroke-width="2.4"/>
<path d="M549.80 154.50L555.40 143.50L544.20 143.50Z" fill="#fff" stroke="#800080" stroke-width="2.50"/>
<path d="M590.25 155.50L595.85 144.50L584.65 144.50Z" fill="#fff" stroke="#800080" stroke-width="2.50"/>
<path d="M626.20 151.50L631.80 140.50L620.60 140.50Z" fill="#fff" stroke="#800080" stroke-width="2.50"/>
<path d="M644.18 146.10L649.78 135.10L638.58 135.10Z" fill="#fff" stroke="#800080" stroke-width="2.50"/>
<path d="M662.15 111.50L667.75 100.50L656.55 100.50Z" fill="#fff" stroke="#800080" stroke-width="2.50"/>
<path d="M680.12 88.20L685.73 77.20L674.52 77.20Z" fill="#fff" stroke="#800080" stroke-width="2.50"/>
<path d="M698.10 83.50L703.70 72.50L692.50 72.50Z" fill="#fff" stroke="#800080" stroke-width="2.50"/>
<path d="M716.08 86.10L721.68 75.10L710.48 75.10Z" fill="#fff" stroke="#800080" stroke-width="2.50"/>
<path d="M734.05 91.50L739.65 80.50L728.45 80.50Z" fill="#fff" stroke="#800080" stroke-width="2.50"/>
<path d="M752.03 89.80L757.63 78.80L746.43 78.80Z" fill="#fff" stroke="#800080" stroke-width="2.50"/>
<path d="M770.00 89.00L775.60 78.00L764.40 78.00Z" fill="#fff" stroke="#800080" stroke-width="2.50"/>
<path d="M597.01 149.17L598.76 149.17L600.50 149.16L602.25 149.14L604.00 149.13L605.75 149.11L607.49 149.08L609.24 149.05L610.99 149.01L612.74 148.95L614.48 148.89L616.23 148.80L617.98 148.69L619.72 148.55L621.47 148.37L623.22 148.14L624.97 147.85L626.71 147.48L628.46 147.02L630.21 146.43L631.96 145.70L633.70 144.79L635.45 143.67L637.20 142.28L638.95 140.60L640.69 138.58L642.44 136.19L644.19 133.41L645.94 130.23L647.68 126.70L649.43 122.85L651.18 118.79L652.93 114.62L654.67 110.46L656.42 106.43L658.17 102.65L659.91 99.19L661.66 96.10L663.41 93.41L665.16 91.10L666.90 89.16L668.65 87.55L670.40 86.22L672.15 85.15L673.89 84.28L675.64 83.59L677.39 83.03L679.14 82.59L680.88 82.24L682.63 81.97L684.38 81.75L686.13 81.58L687.87 81.45L689.62 81.34L691.37 81.26L693.11 81.19L694.86 81.14L696.61 81.10L698.36 81.07L700.10 81.05L701.85 81.03L703.60 81.01L705.35 81.00L707.09 80.99L708.84 80.99L710.59 80.98L712.34 80.98L714.08 80.97L715.83 80.97L717.58 80.97L719.33 80.97L721.07 80.96L722.82 80.96L724.57 80.96L726.32 80.96L728.06 80.96L729.81 80.96L731.56 80.96L733.30 80.96L735.05 80.96L736.80 80.96L738.55 80.96L740.29 80.96L742.04 80.96L743.79 80.96L745.54 80.96L747.28 80.96L749.03 80.96L750.78 80.96L752.53 80.96L754.27 80.96L756.02 80.96L757.77 80.96L759.52 80.96L761.26 80.96L763.01 80.96L764.76 80.96L766.51 80.96L768.25 80.96L770.00 80.96" fill="none" stroke="#008000" stroke-width="2.4"/>
<path d="M549.80 143.50L555.40 154.50L544.20 154.50Z" fill="#fff" stroke="#008000" stroke-width="2.50"/>
<path d="M626.20 142.50L631.80 153.50L620.60 153.50Z" fill="#fff" stroke="#008000" stroke-width="2.50"/>
<path d="M644.18 125.50L649.78 136.50L638.58 136.50Z" fill="#fff" stroke="#008000" stroke-width="2.50"/>
<path d="M662.15 94.50L667.75 105.50L656.55 105.50Z" fill="#fff" stroke="#008000" stroke-width="2.50"/>
<path d="M680.12 80.70L685.73 91.70L674.52 91.70Z" fill="#fff" stroke="#008000" stroke-width="2.50"/>
<path d="M698.10 85.80L703.70 96.80L692.50 96.80Z" fill="#fff" stroke="#008000" stroke-width="2.50"/>
<path d="M716.08 79.80L721.68 90.80L710.48 90.80Z" fill="#fff" stroke="#008000" stroke-width="2.50"/>
<path d="M734.05 80.60L739.65 91.60L728.45 91.60Z" fill="#fff" stroke="#008000" stroke-width="2.50"/>
<path d="M752.03 80.60L757.63 91.60L746.43 91.60Z" fill="#fff" stroke="#008000" stroke-width="2.50"/>
<path d="M770.00 78.50L775.60 89.50L764.40 89.50Z" fill="#fff" stroke="#008000" stroke-width="2.50"/>
<path d="M597.01 149.06L598.76 149.03L600.50 148.99L602.25 148.93L604.00 148.86L605.75 148.78L607.49 148.68L609.24 148.55L610.99 148.38L612.74 148.18L614.48 147.93L616.23 147.62L617.98 147.23L619.72 146.75L621.47 146.16L623.22 145.44L624.97 144.55L626.71 143.48L628.46 142.19L630.21 140.65L631.96 138.82L633.70 136.69L635.45 134.23L637.20 131.44L638.95 128.33L640.69 124.95L642.44 121.33L644.19 117.57L645.94 113.74L647.68 109.95L649.43 106.28L651.18 102.82L652.93 99.63L654.67 96.74L656.42 94.18L658.17 91.95L659.91 90.03L661.66 88.41L663.41 87.04L665.16 85.91L666.90 84.97L668.65 84.20L670.40 83.58L672.15 83.07L673.89 82.65L675.64 82.32L677.39 82.05L679.14 81.83L680.88 81.66L682.63 81.52L684.38 81.41L686.13 81.32L687.87 81.25L689.62 81.19L691.37 81.14L693.11 81.11L694.86 81.08L696.61 81.05L698.36 81.03L700.10 81.02L701.85 81.01L703.60 81.00L705.35 80.99L707.09 80.98L708.84 80.98L710.59 80.98L712.34 80.97L714.08 80.97L715.83 80.97L717.58 80.97L719.33 80.97L721.07 80.96L722.82 80.96L724.57 80.96L726.32 80.96L728.06 80.96L729.81 80.96L731.56 80.96L733.30 80.96L735.05 80.96L736.80 80.96L738.55 80.96L740.29 80.96L742.04 80.96L743.79 80.96L745.54 80.96L747.28 80.96L749.03 80.96L750.78 80.96L752.53 80.96L754.27 80.96L756.02 80.96L757.77 80.96L759.52 80.96L761.26 80.96L763.01 80.96L764.76 80.96L766.51 80.96L768.25 80.96L770.00 80.96" fill="none" stroke="#000000" stroke-width="2.4"/>
<path d="M644.18 116.50V111.50M639.18 111.50H649.18" fill="none" stroke="#000000" stroke-width="2"/>
<circle cx="549.80" cy="149.20" r="4.85" fill="#fff" stroke="#000000" stroke-width="2.50"/>
<circle cx="608.23" cy="149.30" r="4.85" fill="#fff" stroke="#000000" stroke-width="2.50"/>
<circle cx="626.20" cy="140.50" r="4.85" fill="#fff" stroke="#000000" stroke-width="2.50"/>
<circle cx="644.18" cy="116.50" r="4.85" fill="#fff" stroke="#000000" stroke-width="2.50"/>
<circle cx="662.15" cy="93.80" r="4.85" fill="#fff" stroke="#000000" stroke-width="2.50"/>
<circle cx="680.12" cy="80.60" r="4.85" fill="#fff" stroke="#000000" stroke-width="2.50"/>
<circle cx="698.10" cy="79.50" r="4.85" fill="#fff" stroke="#000000" stroke-width="2.50"/>
<circle cx="716.08" cy="78.90" r="4.85" fill="#fff" stroke="#000000" stroke-width="2.50"/>
<circle cx="734.05" cy="84.20" r="4.85" fill="#fff" stroke="#000000" stroke-width="2.50"/>
<circle cx="752.03" cy="80.90" r="4.85" fill="#fff" stroke="#000000" stroke-width="2.50"/>
<circle cx="770.00" cy="83.80" r="4.85" fill="#fff" stroke="#000000" stroke-width="2.50"/>
<rect x="560.3" y="149.2" width="1.3" height="1.5" fill="#777"/><rect x="571.7" y="149.2" width="1.1" height="1.5" fill="#999"/>
<text x="104.6" y="271.5" style="font-family:'Liberation Sans',sans-serif;font-size:20.4px">[NAM]</text><text x="168" y="271.5" style="font-family:'Liberation Sans',sans-serif;font-size:20.6px">(µmol/L)</text>
<path d="M263.30 265.3H286.30" stroke="#000000" stroke-width="3"/>
<circle cx="274.80" cy="265.30" r="6.45" fill="#fff" stroke="#000000" stroke-width="3.33"/>
<text x="298.6" y="271.5" style="font-family:'Liberation Sans',sans-serif;font-size:20px">0</text>
<path d="M333.60 257.45L341.45 265.30L333.60 273.15L325.75 265.30Z" fill="#fff" stroke="#0080ff" stroke-width="3.06"/>
<text x="357.5" y="271.5" style="font-family:'Liberation Sans',sans-serif;font-size:20px">0.1</text>
<path d="M396.00 265.3H419.00" stroke="#008000" stroke-width="3"/>
<path d="M407.50 257.99L414.95 272.62L400.05 272.62Z" fill="#fff" stroke="#008000" stroke-width="3.33"/>
<text x="431.5" y="271.5" style="font-family:'Liberation Sans',sans-serif;font-size:20px">0.3</text>
<path d="M470.10 265.3H493.10" stroke="#800080" stroke-width="3"/>
<path d="M481.60 272.62L489.05 257.99L474.15 257.99Z" fill="#fff" stroke="#800080" stroke-width="3.33"/>
<text x="506" y="271.5" style="font-family:'Liberation Sans',sans-serif;font-size:20px">1</text>
<path d="M536.00 265.3H559.00" stroke="#ff0000" stroke-width="3"/>
<path d="M539.92 265.30L543.71 258.73L551.29 258.73L555.08 265.30L551.29 271.87L543.71 271.87Z" fill="#fff" stroke="#ff0000" stroke-width="3.46"/>
<text x="571" y="271.5" style="font-family:'Liberation Sans',sans-serif;font-size:20px">3</text>
<path d="M594.70 265.3H617.70" stroke="#ff6000" stroke-width="3"/>
<rect x="599.02" y="258.12" width="14.36" height="14.36" fill="#fff" stroke="#ff6000" stroke-width="3.59"/>
<text x="630.9" y="271.5" style="font-family:'Liberation Sans',sans-serif;font-size:20px">10</text>
<path d="M663.90 265.3H686.90" stroke="#0000ff" stroke-width="3"/>
<circle cx="675.40" cy="265.30" r="7.45" fill="#fff" stroke="#0000ff" stroke-width="3.33"/>
<text x="699.3" y="271.5" style="font-family:'Liberation Sans',sans-serif;font-size:20px">30</text>
</svg></body></html>
